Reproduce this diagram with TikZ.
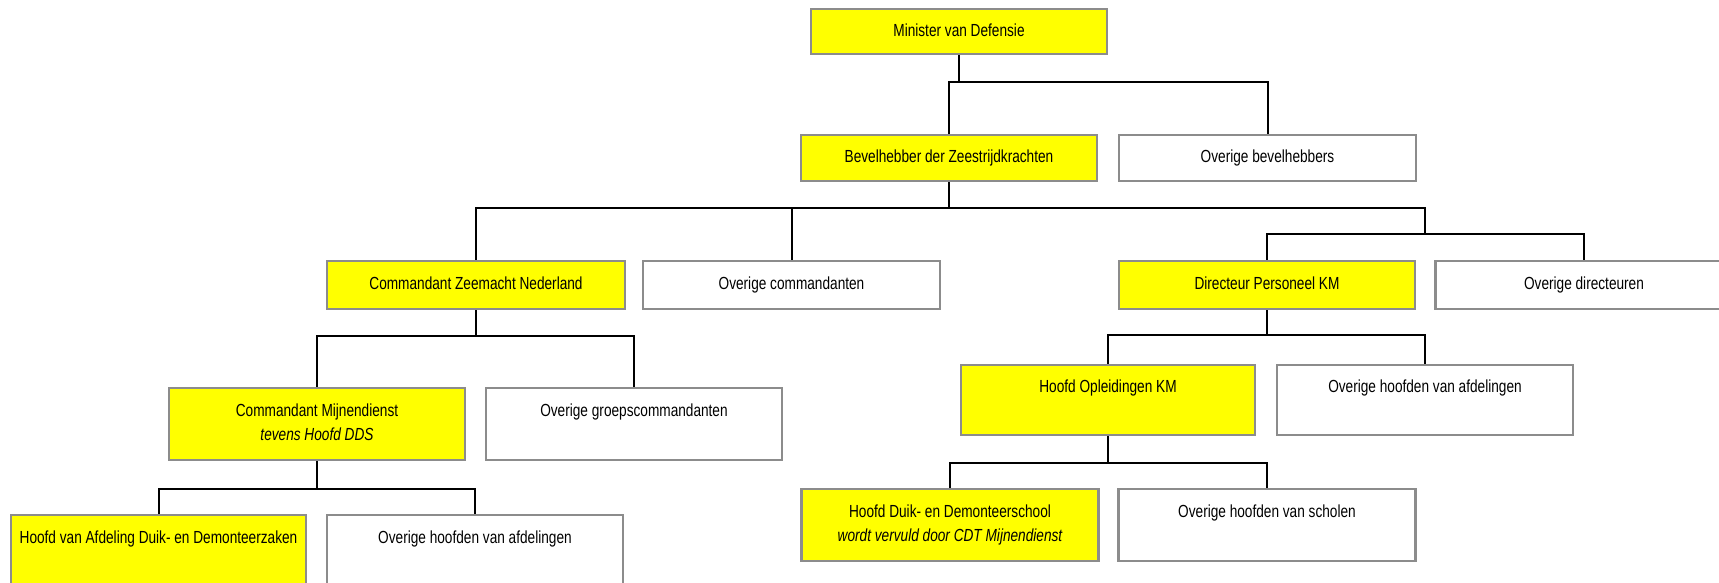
\documentclass[tikz,border=0pt]{standalone}
\usepackage{fontspec}
\setmainfont{Liberation Sans}[FakeStretch=0.78]
\definecolor{bordergray}{RGB}{140,140,140}
\definecolor{boxyellow}{RGB}{255,255,0}
\begin{document}
\begin{tikzpicture}[x=1pt,y=-1pt,
  orgbox/.style={draw=bordergray, line width=2.2pt, minimum width=296pt, minimum height=46pt,
    inner sep=0pt, align=center, font=\fontsize{17.5}{24}\selectfont},
  yel/.style={orgbox, fill=boxyellow},
  wht/.style={orgbox, fill=white},
  tall/.style={minimum height=72pt},
  conn/.style={draw=black, line width=2pt}]
\clip (0,0) rectangle (1719,583);
\fill[white] (0,0) rectangle (1719,583);
% row 0
\node[yel, minimum height=45pt] (min) at (959,31.5) {\strut Minister van Defensie};
% row 1
\node[yel] (bev) at (949,158) {\strut Bevelhebber der Zeestrijdkrachten};
\node[wht, minimum width=297pt] (ob) at (1267.5,158) {\strut Overige bevelhebbers};
% row 2
\node[yel, minimum height=48pt, minimum width=298pt] (czn) at (476,285) {\strut Commandant Zeemacht Nederland};
\node[wht, minimum height=48pt, minimum width=297pt] (oc) at (791.5,285) {\strut Overige commandanten};
\node[yel, minimum height=48pt] (dp) at (1267,285) {\strut Directeur Personeel KM};
\node[wht, minimum height=48pt, minimum width=297pt] (od) at (1584,285) {\strut Overige directeuren};
% row 3
\node[yel, tall] (cm) at (317,424) {\strut Commandant Mijnendienst\\\strut\itshape tevens Hoofd DDS};
\node[wht, tall] (og) at (634,424) {\strut Overige groepscommandanten\\\strut};
\node[yel, minimum height=70pt, minimum width=294pt] (ho) at (1108,400) {\strut Hoofd Opleidingen KM\\\strut};
\node[wht, minimum height=70pt] (ohr) at (1425,400) {\strut Overige hoofden van afdelingen\\\strut};
% row 4
\node[yel, tall, minimum width=295pt] (hva) at (158.5,551) {\strut Hoofd van Afdeling Duik- en Demonteerzaken\\\strut};
\node[wht, tall] (ohl) at (475,551) {\strut Overige hoofden van afdelingen\\\strut};
\node[yel, tall, minimum width=297pt] (hds) at (950,525) {\strut Hoofd Duik- en Demonteerschool\\\strut\itshape wordt vervuld door CDT Mijnendienst};
\node[wht, tall, minimum width=297pt] (ohs) at (1267,525) {\strut Overige hoofden van scholen\\\strut};
% connectors
\draw[conn] (min.south) -- ++(0,27) -| (bev.north);
\draw[conn] (min.south) -- ++(0,27) -| (ob.north);
\coordinate (j1) at (1425,234);
\draw[conn] (bev.south) -- ++(0,26) -| (czn.north);
\draw[conn] (bev.south) -- ++(0,26) -| (oc.north);
\draw[conn] (bev.south) -- ++(0,26) -| (j1);
\draw[conn] (j1) -| (dp.north);
\draw[conn] (j1) -| (od.north);
\draw[conn] (czn.south) -- ++(0,26) -| (cm.north);
\draw[conn] (czn.south) -- ++(0,26) -| (og.north);
\draw[conn] (dp.south) -- ++(0,25) -| (ho.north);
\draw[conn] (dp.south) -- ++(0,25) -| (ohr.north);
\draw[conn] (cm.south) -- ++(0,28) -| (hva.north);
\draw[conn] (cm.south) -- ++(0,28) -| (ohl.north);
\draw[conn] (ho.south) -- ++(0,27) -| (hds.north);
\draw[conn] (ho.south) -- ++(0,27) -| (ohs.north);
\end{tikzpicture}
\end{document}
